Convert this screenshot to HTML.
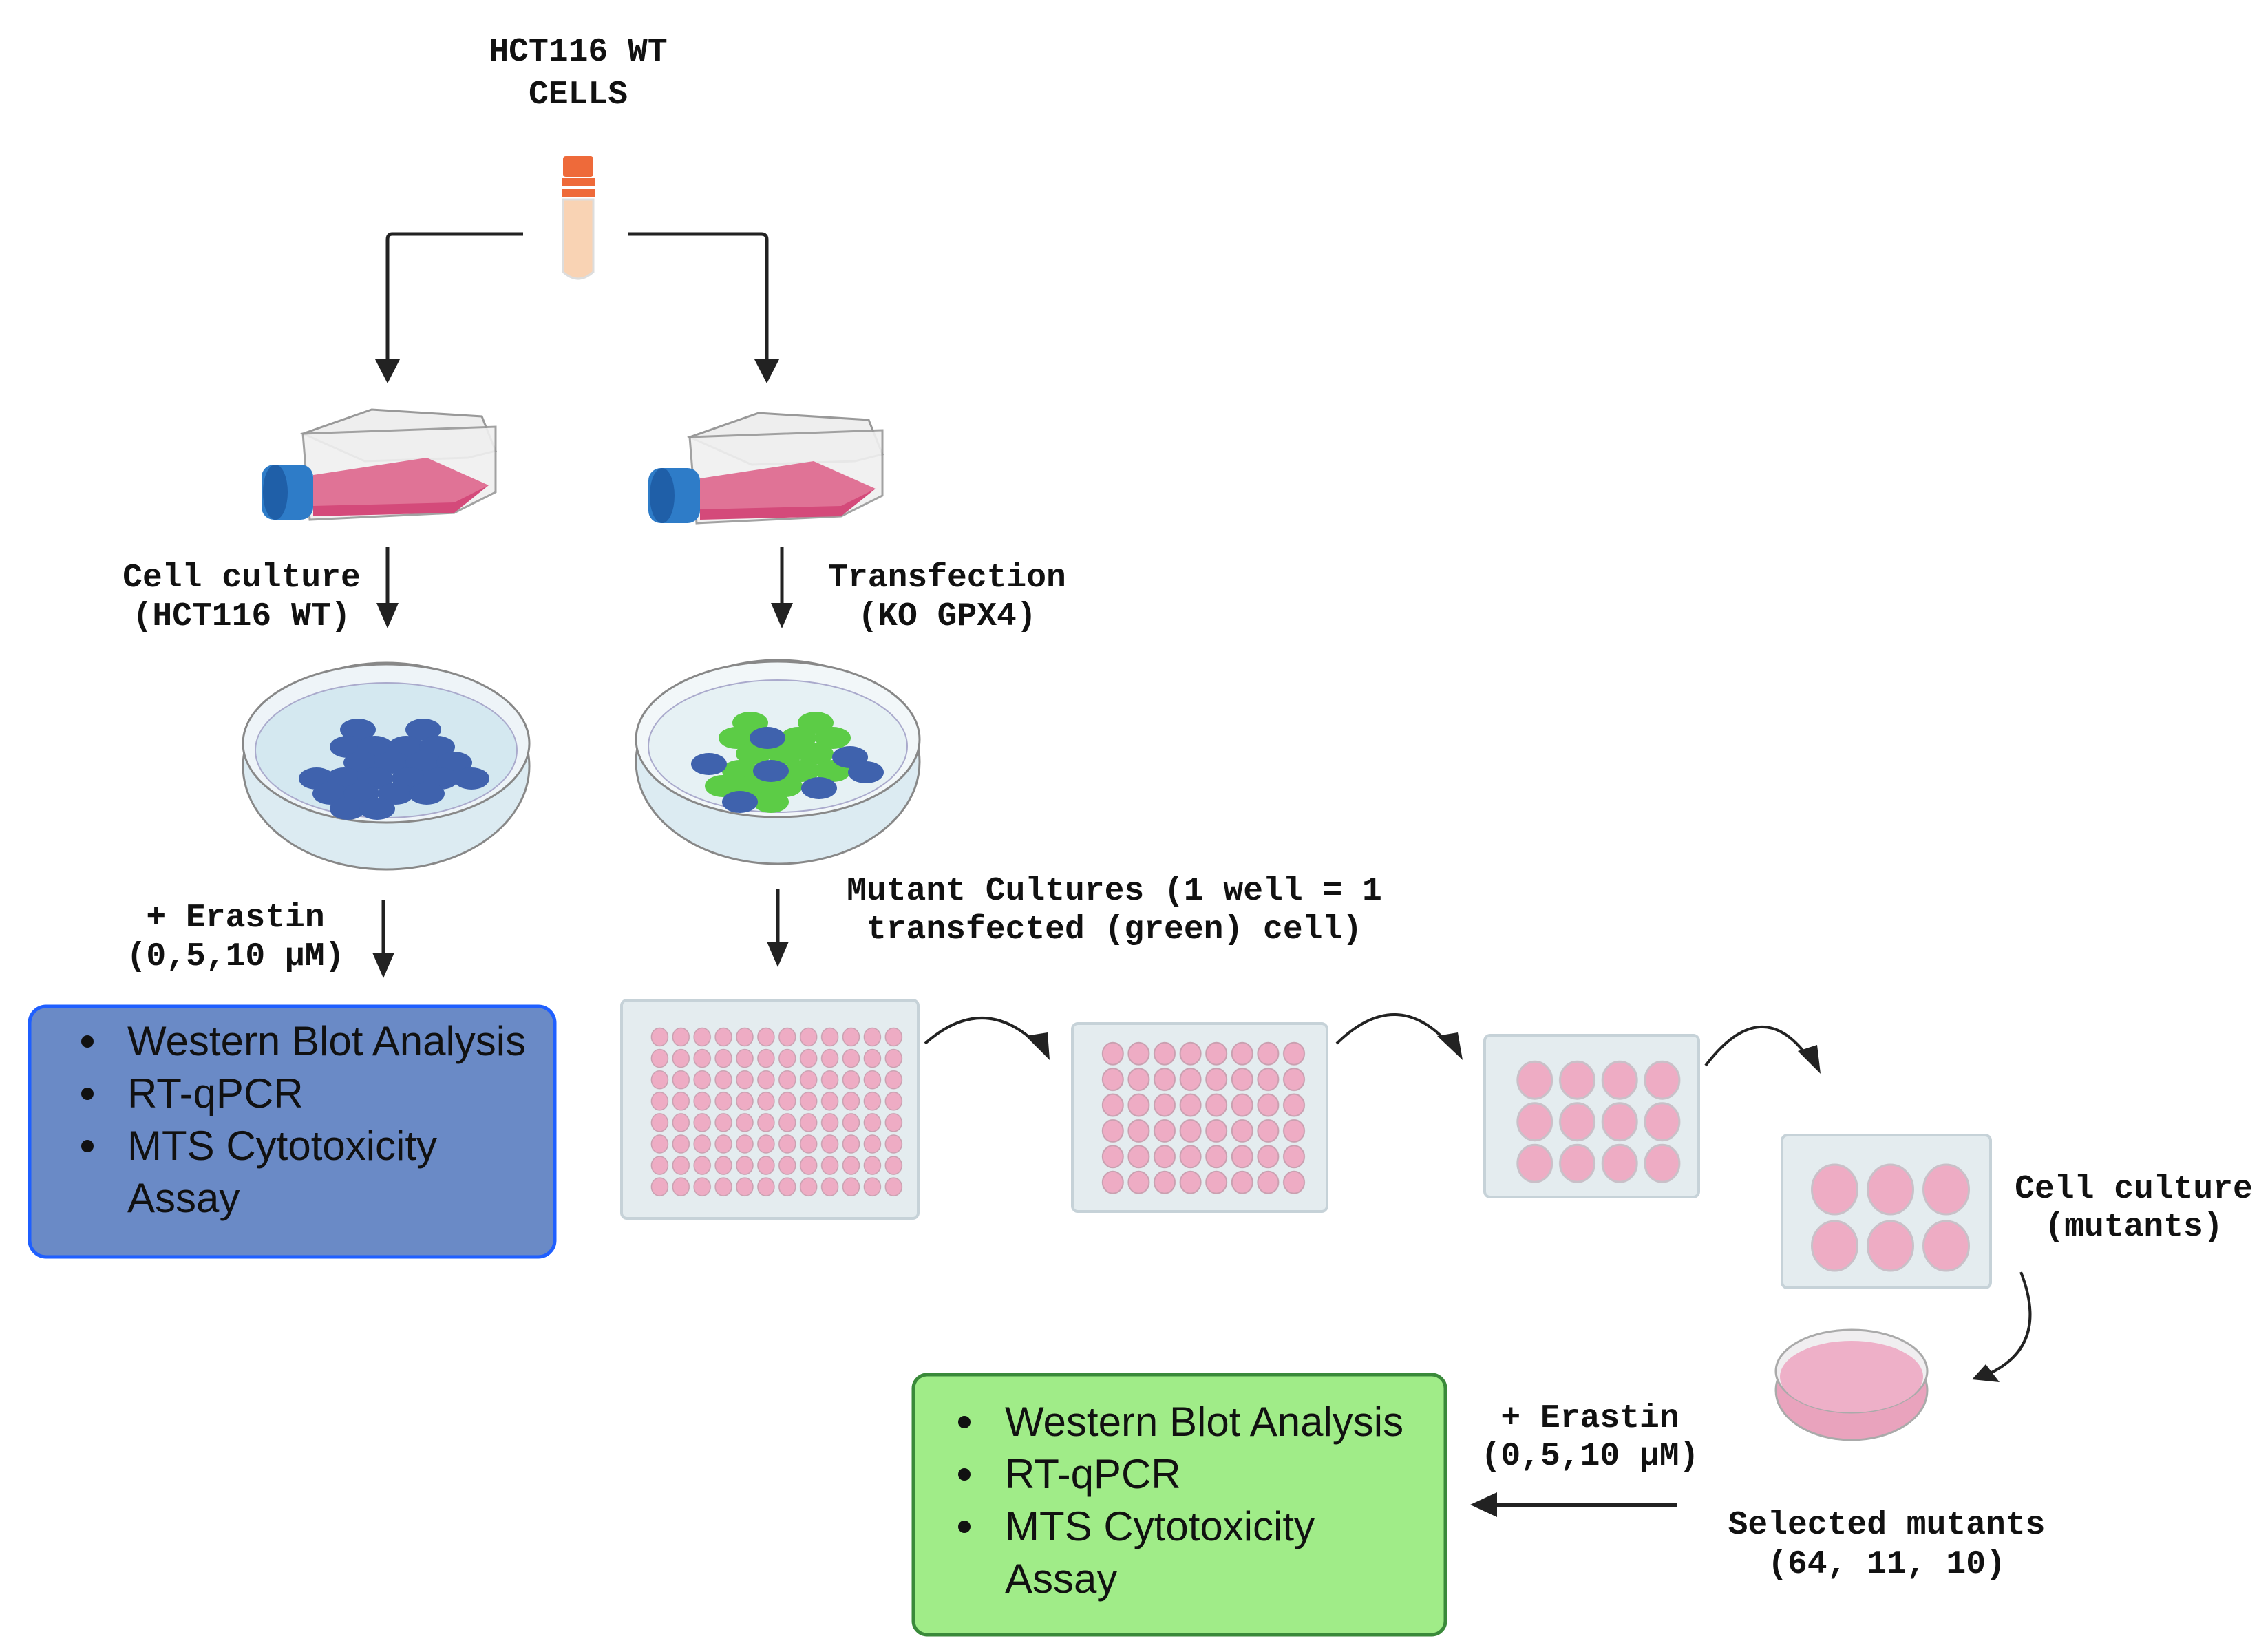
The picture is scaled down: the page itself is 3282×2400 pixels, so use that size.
<!DOCTYPE html>
<html><head><meta charset="utf-8"><style>
html,body{margin:0;padding:0;background:#fff}
body{width:3282px;height:2400px;overflow:hidden;position:relative}
svg{position:absolute;left:0;top:0}
.m{font-family:"Liberation Mono",monospace;font-size:48px;font-weight:bold;fill:#111;text-anchor:middle}
.s{font-family:"Liberation Sans",sans-serif;font-size:60px;fill:#111}
</style></head><body>
<svg width="3282" height="2400" viewBox="0 0 3282 2400" xmlns="http://www.w3.org/2000/svg">
<defs>
<marker id="ah" markerWidth="10" markerHeight="10" refX="5" refY="5" orient="auto" markerUnits="userSpaceOnUse" viewBox="0 0 10 10"><path d="M0,0 L10,5 L0,10 z" fill="#222"/></marker>
<pattern id="w96" x="943" y="1491" width="30.9" height="31.1" patternUnits="userSpaceOnUse"><ellipse cx="15.4" cy="15.5" rx="12" ry="13" fill="#eeacc4" stroke="#c9a0b0" stroke-width="1.5"/></pattern>
<pattern id="w48" x="1598" y="1512" width="37.6" height="37.4" patternUnits="userSpaceOnUse"><ellipse cx="18.8" cy="18.7" rx="15" ry="16" fill="#eeacc4" stroke="#c9a0b0" stroke-width="2"/></pattern>
<pattern id="w12" x="2199" y="1539" width="61.7" height="60.5" patternUnits="userSpaceOnUse"><ellipse cx="30.8" cy="30.2" rx="25" ry="27" fill="#eeacc4" stroke="#c9c0c8" stroke-width="3"/></pattern>
<pattern id="w6" x="2625" y="1687" width="81" height="82" patternUnits="userSpaceOnUse"><ellipse cx="40.5" cy="41" rx="33" ry="36" fill="#eeacc4" stroke="#c9c0c8" stroke-width="3"/></pattern>
<g id="flask">
<path d="M60,35 L160,0 L320,10 L340,60 L300,70 L150,75 Z" fill="#eee" stroke="#999" stroke-width="3"/>
<path d="M60,35 L340,25 L340,120 L280,150 L70,160 Z" fill="#f0f0f0" stroke="#999" stroke-width="3" opacity="0.9"/>
<path d="M75,95 L240,70 L330,110 L280,140 L75,150 Z" fill="#e07396"/>
<path d="M75,140 L280,135 L330,110 L280,150 L75,155 Z" fill="#d44a7a"/>
<rect x="0" y="80" width="75" height="80" rx="18" fill="#2e7cc8"/>
<ellipse cx="20" cy="120" rx="18" ry="40" fill="#1f5fa8"/>
</g>
</defs>

<text class="m" x="840" y="88">HCT116 WT</text>
<text class="m" x="840" y="150">CELLS</text>

<rect x="818" y="227" width="44" height="30" rx="4" fill="#ee6a3a"/>
<rect x="816" y="258" width="48" height="12" fill="#ee6a3a"/><rect x="816" y="274" width="48" height="12" fill="#ee6a3a"/>
<path d="M818,290 L862,290 L862,395 Q840,415 818,395 Z" fill="#f9d3b4" stroke="#ddd" stroke-width="3"/>

<path d="M760,340 L570,340 Q563,340 563,348 L563,540" fill="none" stroke="#222" stroke-width="5"/>
<path d="M913,340 L1106,340 Q1114,340 1114,348 L1114,540" fill="none" stroke="#222" stroke-width="5"/>
<path d="M545,522 L581,522 L563,557 Z" fill="#222"/>
<path d="M1096,522 L1132,522 L1114,557 Z" fill="#222"/>

<use href="#flask" x="380" y="595"/>
<use href="#flask" x="942" y="600"/>

<g fill="#222" stroke="#222" stroke-width="5">
<line x1="563" y1="794" x2="563" y2="880"/><path d="M547,876 L579,876 L563,913 Z" stroke="none"/>
<line x1="1136" y1="794" x2="1136" y2="880"/><path d="M1120,876 L1152,876 L1136,913 Z" stroke="none"/>
<line x1="557" y1="1308" x2="557" y2="1388"/><path d="M541,1384 L573,1384 L557,1421 Z" stroke="none"/>
<line x1="1130" y1="1292" x2="1130" y2="1372"/><path d="M1114,1368 L1146,1368 L1130,1405 Z" stroke="none"/>
</g>
<text class="m" x="351" y="852">Cell culture</text>
<text class="m" x="351" y="908">(HCT116 WT)</text>
<text class="m" x="1376" y="852">Transfection</text>
<text class="m" x="1376" y="908">(KO GPX4)</text>

<g>
<ellipse cx="561" cy="1113" rx="208" ry="150" fill="#dcebf2" stroke="#888" stroke-width="3"/>
<ellipse cx="561" cy="1080" rx="208" ry="115" fill="#eef4f8" stroke="#888" stroke-width="3"/>
<ellipse cx="561" cy="1090" rx="190" ry="98" fill="#d4e8f0" stroke="#aac" stroke-width="2"/>
<g fill="#3f62ad">
<ellipse cx="520" cy="1060" rx="26" ry="16"/><ellipse cx="615" cy="1060" rx="26" ry="16"/>
<ellipse cx="505" cy="1085" rx="26" ry="16"/><ellipse cx="545" cy="1085" rx="26" ry="16"/><ellipse cx="590" cy="1085" rx="26" ry="16"/><ellipse cx="635" cy="1085" rx="26" ry="16"/>
<ellipse cx="525" cy="1108" rx="26" ry="16"/><ellipse cx="570" cy="1108" rx="26" ry="16"/><ellipse cx="615" cy="1108" rx="26" ry="16"/><ellipse cx="660" cy="1108" rx="26" ry="16"/>
<ellipse cx="460" cy="1131" rx="26" ry="16"/><ellipse cx="500" cy="1131" rx="26" ry="16"/><ellipse cx="545" cy="1131" rx="26" ry="16"/><ellipse cx="595" cy="1131" rx="26" ry="16"/><ellipse cx="640" cy="1131" rx="26" ry="16"/><ellipse cx="685" cy="1131" rx="26" ry="16"/>
<ellipse cx="480" cy="1153" rx="26" ry="16"/><ellipse cx="525" cy="1153" rx="26" ry="16"/><ellipse cx="575" cy="1153" rx="26" ry="16"/><ellipse cx="620" cy="1153" rx="26" ry="16"/>
<ellipse cx="505" cy="1175" rx="26" ry="16"/><ellipse cx="548" cy="1175" rx="26" ry="16"/>
</g>
</g>
<g>
<ellipse cx="1130" cy="1107" rx="206" ry="148" fill="#dcebf2" stroke="#888" stroke-width="3"/>
<ellipse cx="1130" cy="1074" rx="206" ry="113" fill="#f2f7f9" stroke="#888" stroke-width="3"/>
<ellipse cx="1130" cy="1084" rx="188" ry="96" fill="#e6f1f4" stroke="#aac" stroke-width="2"/>
<g fill="#5ccc46">
<ellipse cx="1090" cy="1050" rx="26" ry="16"/><ellipse cx="1185" cy="1050" rx="26" ry="16"/>
<ellipse cx="1070" cy="1072" rx="26" ry="16"/><ellipse cx="1160" cy="1072" rx="26" ry="16"/><ellipse cx="1210" cy="1072" rx="26" ry="16"/>
<ellipse cx="1095" cy="1095" rx="26" ry="16"/><ellipse cx="1140" cy="1095" rx="26" ry="16"/><ellipse cx="1185" cy="1095" rx="26" ry="16"/>
<ellipse cx="1075" cy="1120" rx="26" ry="16"/><ellipse cx="1165" cy="1120" rx="26" ry="16"/><ellipse cx="1210" cy="1120" rx="26" ry="16"/>
<ellipse cx="1050" cy="1142" rx="26" ry="16"/><ellipse cx="1095" cy="1142" rx="26" ry="16"/><ellipse cx="1140" cy="1142" rx="26" ry="16"/>
<ellipse cx="1120" cy="1165" rx="26" ry="16"/>
</g>
<g fill="#3f62ad">
<ellipse cx="1115" cy="1072" rx="26" ry="16"/><ellipse cx="1030" cy="1110" rx="26" ry="16"/><ellipse cx="1120" cy="1120" rx="26" ry="16"/>
<ellipse cx="1235" cy="1100" rx="26" ry="16"/><ellipse cx="1258" cy="1122" rx="26" ry="16"/><ellipse cx="1190" cy="1145" rx="26" ry="16"/><ellipse cx="1075" cy="1165" rx="26" ry="16"/>
</g>
</g>

<text class="m" x="342" y="1346">+ Erastin</text>
<text class="m" x="342" y="1402">(0,5,10 µM)</text>
<text class="m" x="1619" y="1307">Mutant Cultures (1 well = 1</text>
<text class="m" x="1619" y="1363">transfected (green) cell)</text>

<rect x="43" y="1462" width="763" height="364" rx="24" fill="#6a8ac6" stroke="#1f5fff" stroke-width="5"/>
<circle cx="127" cy="1513" r="9" fill="#111"/><text class="s" x="185" y="1533">Western Blot Analysis</text>
<circle cx="127" cy="1589" r="9" fill="#111"/><text class="s" x="185" y="1609">RT-qPCR</text>
<circle cx="127" cy="1665" r="9" fill="#111"/><text class="s" x="185" y="1685">MTS Cytotoxicity</text>
<text class="s" x="185" y="1761">Assay</text>

<rect x="903" y="1453" width="431" height="317" rx="8" fill="#e4ecef" stroke="#c6d2d8" stroke-width="4"/>
<rect x="943" y="1491" width="371" height="249" fill="url(#w96)"/>
<rect x="1558" y="1487" width="370" height="273" rx="8" fill="#e4ecef" stroke="#c6d2d8" stroke-width="4"/>
<rect x="1598" y="1512" width="301" height="225" fill="url(#w48)"/>
<rect x="2157" y="1504" width="311" height="235" rx="8" fill="#e4ecef" stroke="#c6d2d8" stroke-width="4"/>
<rect x="2199" y="1539" width="247" height="182" fill="url(#w12)"/>
<rect x="2589" y="1649" width="303" height="222" rx="8" fill="#e4ecef" stroke="#c6d2d8" stroke-width="4"/>
<rect x="2625" y="1687" width="243" height="164" fill="url(#w6)"/>

<g fill="none" stroke="#222" stroke-width="4">
<path d="M1344,1516 Q1430,1440 1510,1520"/>
<path d="M1942,1516 Q2030,1430 2108,1520"/>
<path d="M2478,1548 Q2560,1440 2630,1540"/>
<path d="M2936,1848 Q2980,1960 2880,2000"/>
<path d="M2436,2186 L2170,2186" stroke-width="6"/>
</g>
<g fill="#222">
<path d="M1490,1505 L1525,1540 L1522,1500 Z"/>
<path d="M2088,1505 L2125,1540 L2118,1500 Z"/>
<path d="M2612,1527 L2645,1560 L2640,1518 Z"/>
<path d="M2865,2004 L2905,2008 L2885,1982 Z"/>
<path d="M2175,2168 L2136,2186 L2175,2204 Z"/>
</g>

<text class="m" x="3100" y="1740">Cell culture</text>
<text class="m" x="3100" y="1795">(mutants)</text>

<ellipse cx="2690" cy="2020" rx="110" ry="72" fill="#e9a3bd" stroke="#aaa" stroke-width="3"/>
<ellipse cx="2690" cy="1992" rx="110" ry="60" fill="#f0eef0" stroke="#aaa" stroke-width="3"/>
<ellipse cx="2690" cy="2000" rx="104" ry="52" fill="#eeb0c8"/>

<text class="m" x="2310" y="2073">+ Erastin</text>
<text class="m" x="2310" y="2128">(0,5,10 µM)</text>
<text class="m" x="2741" y="2228">Selected mutants</text>
<text class="m" x="2741" y="2285">(64, 11, 10)</text>

<rect x="1327" y="1997" width="773" height="378" rx="20" fill="#a0ec88" stroke="#3a8a3a" stroke-width="5"/>
<circle cx="1401" cy="2066" r="9" fill="#111"/><text class="s" x="1460" y="2086">Western Blot Analysis</text>
<circle cx="1401" cy="2142" r="9" fill="#111"/><text class="s" x="1460" y="2162">RT-qPCR</text>
<circle cx="1401" cy="2218" r="9" fill="#111"/><text class="s" x="1460" y="2238">MTS Cytotoxicity</text>
<text class="s" x="1460" y="2314">Assay</text>
</svg>
</body></html>
